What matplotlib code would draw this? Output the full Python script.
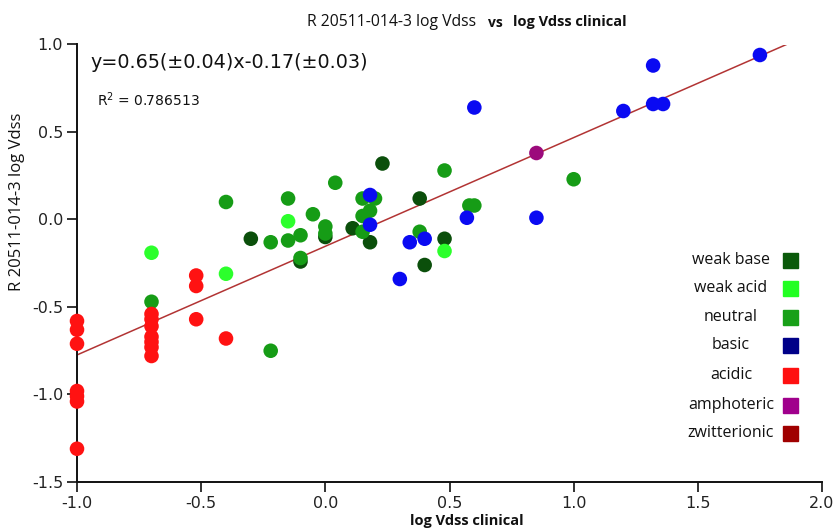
import matplotlib
matplotlib.use("Agg")
import matplotlib.pyplot as plt
from matplotlib.patches import Rectangle

plt.rcParams["axes.unicode_minus"] = False

# values (log Vdss clinical, predicted log Vdss)
weak_base_x = [-0.30, -0.10, 0.00, 0.11, 0.18, 0.23, 0.38, 0.40, 0.48]
weak_base_y = [-0.11, -0.24, -0.10, -0.05, -0.13, 0.32, 0.12, -0.26, -0.11]

weak_acid_x = [-0.70, -0.40, -0.15, 0.48]
weak_acid_y = [-0.19, -0.31, -0.01, -0.18]

neutral_x = [-0.70, -0.40, -0.22, -0.22, -0.15, -0.15, -0.10, -0.10, -0.05,
             0.00, 0.00, 0.04, 0.15, 0.15, 0.15, 0.18, 0.20, 0.38, 0.48,
             0.58, 0.60, 1.00]
neutral_y = [-0.47, 0.10, -0.75, -0.13, 0.12, -0.12, -0.09, -0.22, 0.03,
             -0.04, -0.08, 0.21, 0.12, 0.02, -0.07, 0.05, 0.12, -0.07, 0.28,
             0.08, 0.08, 0.23]

basic_x = [0.18, 0.18, 0.30, 0.34, 0.40, 0.57, 0.60, 0.85, 1.20, 1.32, 1.32,
           1.36, 1.75]
basic_y = [0.14, -0.03, -0.34, -0.13, -0.11, 0.01, 0.64, 0.01, 0.62, 0.88,
           0.66, 0.66, 0.94]

acidic_x = [-1.0, -1.0, -1.0, -1.0, -1.0, -1.0, -1.0,
            -0.70, -0.70, -0.70, -0.70, -0.70, -0.70, -0.70,
            -0.52, -0.52, -0.52, -0.40]
acidic_y = [-0.58, -0.63, -0.71, -0.98, -1.01, -1.04, -1.31,
            -0.54, -0.57, -0.61, -0.67, -0.70, -0.73, -0.78,
            -0.32, -0.38, -0.57, -0.68]

amphoteric_x = [0.85]
amphoteric_y = [0.38]

zwitterionic_x = []
zwitterionic_y = []

# regression line as drawn in the reference
fit_slope = 0.621
fit_intercept = -0.153
fit_x = [-1.0, 1.86]

categories = ["weak base", "weak acid", "neutral", "basic", "acidic",
              "amphoteric", "zwitterionic"]
point_colors = ["#0b4f0b", "#2cff2c", "#169c16", "#0a0af2", "#ff1212",
                "#9c0a7c", "#a00000"]
legend_colors = ["#0b5a0b", "#22ff22", "#18a018", "#000088", "#ff1010",
                 "#a0008c", "#a00000"]
series = [(weak_base_x, weak_base_y), (weak_acid_x, weak_acid_y),
          (neutral_x, neutral_y), (basic_x, basic_y), (acidic_x, acidic_y),
          (amphoteric_x, amphoteric_y), (zwitterionic_x, zwitterionic_y)]

W, H = 838, 530
fig = plt.figure(figsize=(W / 100, H / 100), dpi=100)
ax = fig.add_axes([77 / W, 1 - 482 / H, (822 - 77) / W, (482 - 44.5) / H])


def px(x, y):
    return x / W, 1 - y / H


ax.plot(fit_x, [fit_slope * v + fit_intercept for v in fit_x],
        color="#b23434", linewidth=1.1, zorder=2)
for (xs, ys), col in zip(series, point_colors):
    if xs:
        ax.scatter(xs, ys, s=110, color=col, edgecolors="none", zorder=3,
                   clip_on=False)

ax.set_xlim(-1.0, 2.0)
ax.set_ylim(-1.5, 1.0)
ax.set_xticks([-1.0, -0.5, 0.0, 0.5, 1.0, 1.5, 2.0])
ax.set_yticks([-1.5, -1.0, -0.5, 0.0, 0.5, 1.0])
ax.xaxis.set_major_formatter(matplotlib.ticker.FormatStrFormatter("%.1f"))
ax.yaxis.set_major_formatter(matplotlib.ticker.FormatStrFormatter("%.1f"))
ax.tick_params(direction="out", length=7, width=1.3, labelsize=11.5,
               colors="#222222", pad=3)
for side in ("top", "right"):
    ax.spines[side].set_visible(False)
for side in ("left", "bottom"):
    ax.spines[side].set_linewidth(1.4)
    ax.spines[side].set_color("#111111")

# title in three runs
fig.text(*px(307, 22), "R 20511-014-3 log Vdss", fontsize=11.3,
         family="Open Sans", va="center", ha="left", color="#111111")
fig.text(*px(488, 23), "vs", fontsize=10, family="Open Sans",
         weight="bold", va="center", ha="left", color="#111111")
fig.text(*px(513, 22), "log Vdss clinical", fontsize=10.5,
         family="Open Sans", weight="bold", va="center", ha="left",
         color="#111111")

fig.text(*px(467, 521), "log Vdss clinical", fontsize=10.5,
         family="Open Sans", weight="bold", ha="center", va="center",
         color="#111111")
fig.text(*px(17, 202), "R 20511-014-3 log Vdss", fontsize=12,
         family="Open Sans", rotation=90, ha="center", va="center",
         color="#111111")

fig.text(*px(90, 62), "y=0.65(\u00b10.04)x-0.17(\u00b10.03)", fontsize=13.8,
         family="DejaVu Sans", ha="left", va="center", color="#111111")
fig.text(*px(97, 100), "R$^2$ = 0.786513", fontsize=10,
         family="DejaVu Sans", ha="left", va="center", color="#111111")

# legend: centred labels and coloured squares
row_y = [260, 288, 317, 345, 375, 405, 433]
for lab, col, ry in zip(categories, legend_colors, row_y):
    fig.text(*px(731, ry), lab, fontsize=11.5, family="Open Sans",
             ha="center", va="center", color="#111111")
    fig.patches.append(Rectangle(px(782.5, ry + 7.5), 15 / W, 15 / H,
                                 transform=fig.transFigure, color=col,
                                 figure=fig))

fig.savefig("out.png", dpi=100)
